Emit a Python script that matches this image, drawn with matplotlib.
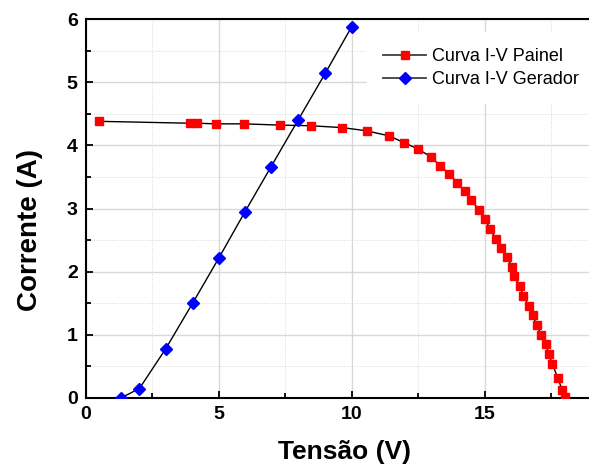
import numpy as np
from matplotlib import pyplot as plt
from matplotlib.ticker import MultipleLocator

plt.rcParams['font.family'] = ['Liberation Sans', 'DejaVu Sans']

# Curva I-V do painel
v_painel = [0.49, 3.91, 4.19, 4.89, 5.96, 7.30, 8.47, 9.65, 10.56, 11.40, 11.98,
            12.50, 12.97, 13.32, 13.66, 13.97, 14.26, 14.50, 14.78, 15.02, 15.20,
            15.42, 15.60, 15.83, 16.02, 16.12, 16.31, 16.46, 16.65, 16.81, 16.96,
            17.13, 17.30, 17.41, 17.54, 17.76, 17.91, 18.04]
i_painel = [4.38, 4.35, 4.35, 4.34, 4.34, 4.32, 4.31, 4.28, 4.23, 4.15, 4.04,
            3.94, 3.82, 3.68, 3.55, 3.41, 3.27, 3.13, 2.98, 2.83, 2.68,
            2.52, 2.38, 2.23, 2.08, 1.93, 1.77, 1.62, 1.46, 1.31, 1.15,
            1.00, 0.85, 0.69, 0.54, 0.31, 0.13, 0.02]

# Curva I-V do gerador
v_gerador = [1.31, 2.01, 3.0, 4.01, 4.99, 5.97, 6.96, 7.98, 9.0, 10.0]
i_gerador = [0.0, 0.15, 0.78, 1.50, 2.21, 2.94, 3.66, 4.40, 5.14, 5.88]

fig = plt.figure(figsize=(5.89, 4.68), dpi=100)
# eixo vai um pouco alem da borda direita, como no original
ax = fig.add_axes([86/589, 1 - 398/468, 505/589, 379/468])

ax.plot(v_painel, i_painel, color='black', lw=1, marker='s', ms=5.5,
        mfc='#ff0000', mec='#ff0000', label='Curva I-V Painel', zorder=3)
ax.plot(v_gerador, i_gerador, color='black', lw=1, marker='D', ms=6.3,
        mfc='#0000ff', mec='#0000ff', label='Curva I-V Gerador', zorder=3)

ax.set_xlim(0, 19)
ax.set_ylim(0, 6)
ax.xaxis.set_major_locator(MultipleLocator(5))
ax.xaxis.set_minor_locator(MultipleLocator(2.5))
ax.yaxis.set_major_locator(MultipleLocator(1))
ax.yaxis.set_minor_locator(MultipleLocator(0.5))

ax.grid(True, which='major', color='#d8d8d8', lw=1, ls='-')
ax.grid(True, which='minor', color='#d8d8d8', lw=0.7, ls=':')
ax.set_axisbelow(True)

ax.tick_params(which='both', direction='in', top=False, right=False,
               labelsize=14, width=1.3, pad=6)
ax.tick_params(which='major', length=5)
ax.tick_params(which='minor', length=3.5)
for lab in ax.get_xticklabels() + ax.get_yticklabels():
    lab.set_fontweight('bold')
for s in ax.spines.values():
    s.set_linewidth(1.5)

ax.set_xlabel('Tensão (V)', fontsize=19, fontweight='bold')
ax.set_ylabel('Corrente (A)', fontsize=20, fontweight='bold')
ax.xaxis.set_label_coords(0.511, -0.11)
ax.yaxis.set_label_coords(-0.086, 0.443)

leg = ax.legend(loc='center left', bbox_to_anchor=(0.556, 0.871), fontsize=13,
                frameon=True, framealpha=1, edgecolor='none', fancybox=False,
                handlelength=2.4, handletextpad=0.3, borderpad=0.9,
                borderaxespad=0, labelspacing=0.33)
for h in leg.get_lines():
    h.set_color('#404040')
    h.set_linewidth(1.3)

plt.savefig('out.png', dpi=100)
